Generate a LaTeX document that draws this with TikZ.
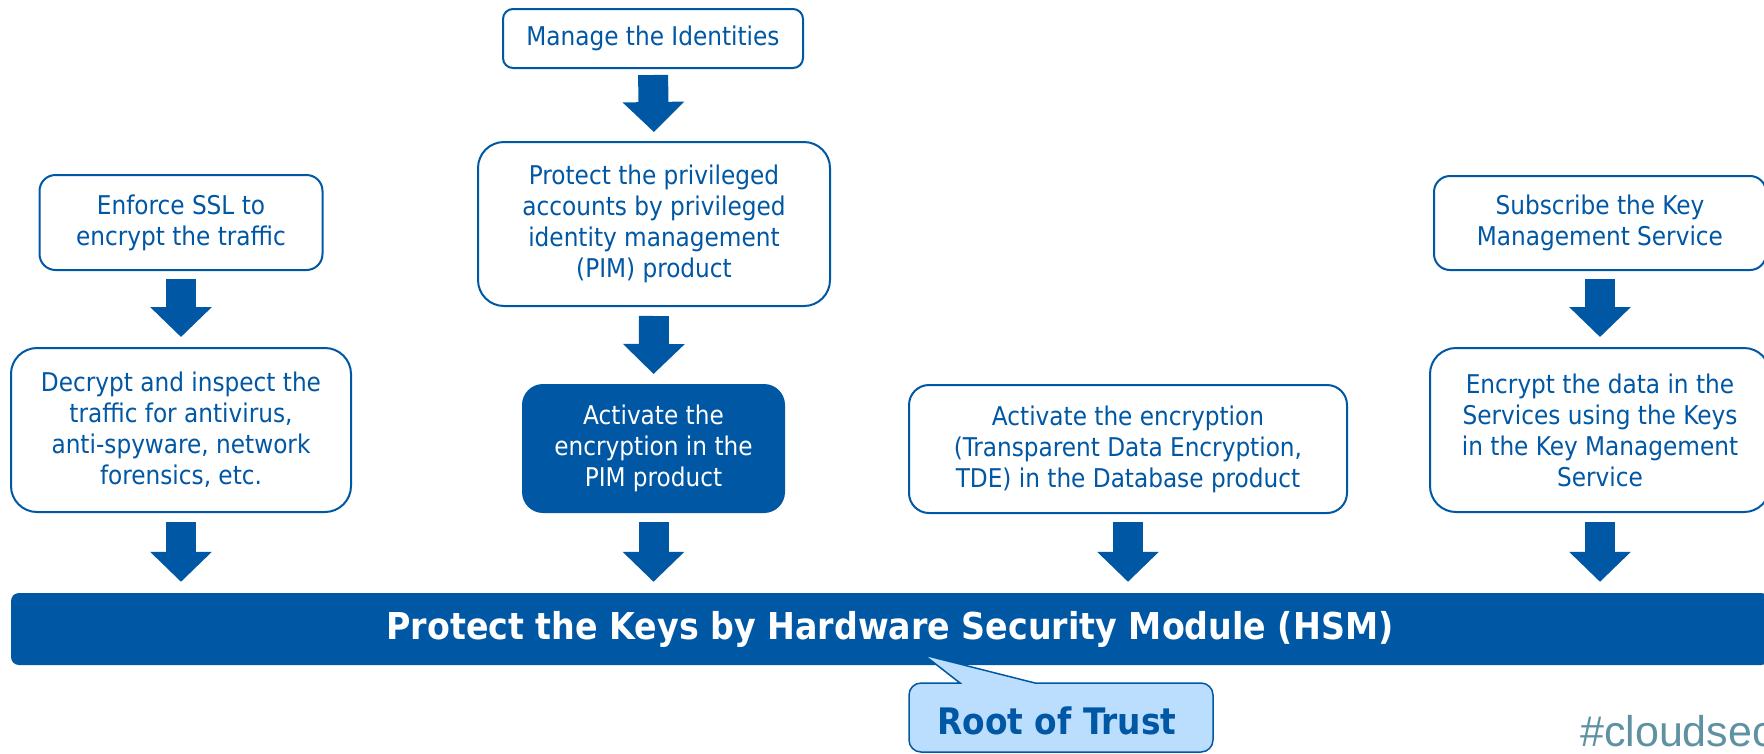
\documentclass[tikz,border=0pt]{standalone}
\usepackage{fontspec}
\setmainfont{DejaVu Sans Condensed}
\newfontfamily\cloudfont{Liberation Sans}
\usetikzlibrary{arrows.meta}
\definecolor{mainblue}{RGB}{0,87,164}
\definecolor{calloutfill}{RGB}{187,222,255}
\definecolor{tagcolor}{RGB}{94,146,162}
\tikzset{
  stepbox/.style={draw=mainblue, line width=2pt, fill=white, text=mainblue, align=center,
    font=\fontsize{25.8}{31}\selectfont, inner sep=0pt},
  filledbox/.style={stepbox, fill=mainblue, text=white},
  bigarrow/.style={draw=mainblue, line width=30pt, -{Triangle[width=60pt,length=30pt]}},
  calloutshape/.style={draw=mainblue, line width=1.5pt, fill=calloutfill},
}
\begin{document}
\begin{tikzpicture}[x=1pt,y=-1pt]
\clip (0,0) rectangle (1764,753);
% column 2
\node[stepbox, minimum width=300pt, minimum height=59pt, rounded corners=10pt] (ident) at (653,38.5) {Manage the Identities};
\node[stepbox, minimum width=352pt, minimum height=164pt, rounded corners=26pt] (pim) at (654,224) {Protect the privileged\\accounts by privileged\\identity management\\(PIM) product};
\node[filledbox, minimum width=261pt, minimum height=127pt, rounded corners=20pt] (act) at (653.5,448.5) {Activate the\\encryption in the\\PIM product};
% column 1
\node[stepbox, minimum width=283pt, minimum height=95pt, rounded corners=16pt] (ssl) at (181,222.5) {Enforce SSL to\\encrypt the traffic};
\node[stepbox, minimum width=340pt, minimum height=164pt, rounded corners=26pt] (dec) at (181,430) {Decrypt and inspect the\\traffic for antivirus,\\anti-spyware, network\\forensics, etc.};
% column 3
\node[stepbox, minimum width=438pt, minimum height=128pt, rounded corners=20pt] (tde) at (1128,449) {Activate the encryption\\(Transparent Data Encryption,\\TDE) in the Database product};
% column 4
\node[stepbox, minimum width=332pt, minimum height=94pt, rounded corners=16pt] (sub) at (1600,223) {Subscribe the Key\\Management Service};
\node[stepbox, minimum width=340pt, minimum height=164pt, rounded corners=26pt] (enc) at (1600,430) {Encrypt the data in the\\Services using the Keys\\in the Key Management\\Service};
% HSM bar
\node[fill=mainblue, rounded corners=8pt, minimum width=1758pt, minimum height=72pt, inner sep=0pt,
  text=white, font=\bfseries\fontsize{37}{40}\selectfont] (hsm) at (890,629) {Protect the Keys by Hardware Security Module (HSM)};
% arrows
\draw[bigarrow, shorten <=6pt, shorten >=9pt] (ident.south) -- (pim.north);
\draw[bigarrow, shorten <=9pt, shorten >=10pt] (pim.south) -- (act.north);
\draw[bigarrow, shorten <=8pt, shorten >=10pt] (ssl.south) -- (dec.north);
\draw[bigarrow, shorten <=8pt, shorten >=10pt] (sub.south) -- (enc.north);
\draw[bigarrow, shorten <=9pt, shorten >=11pt] (dec.south) -- (dec.south |- hsm.north);
\draw[bigarrow, shorten <=9pt, shorten >=11pt] (act.south) -- (act.south |- hsm.north);
\draw[bigarrow, shorten <=8pt, shorten >=11pt] (tde.south) -- (tde.south |- hsm.north);
\draw[bigarrow, shorten <=9pt, shorten >=11pt] (enc.south) -- (enc.south |- hsm.north);
% callout
\draw[calloutshape] (909,740) -- (909,695) arc[start angle=180, end angle=270, radius=12]
  -- (960,683) -- (924,655) -- (1035,683) -- (1201,683) arc[start angle=270, end angle=360, radius=12]
  -- (1213,740) arc[start angle=0, end angle=90, radius=12]
  -- (921,752) arc[start angle=90, end angle=180, radius=12] -- cycle;
\node[text=mainblue, font=\bfseries\fontsize{36.5}{40}\selectfont, inner sep=0pt] (root) at (1057,721) {Root of Trust};
% tag
\node[anchor=base west, text=tagcolor, font=\cloudfont\fontsize{43}{43}\selectfont, inner sep=0pt] (tag) at (1580,746) {\#cloudsec};
\end{tikzpicture}
\end{document}
